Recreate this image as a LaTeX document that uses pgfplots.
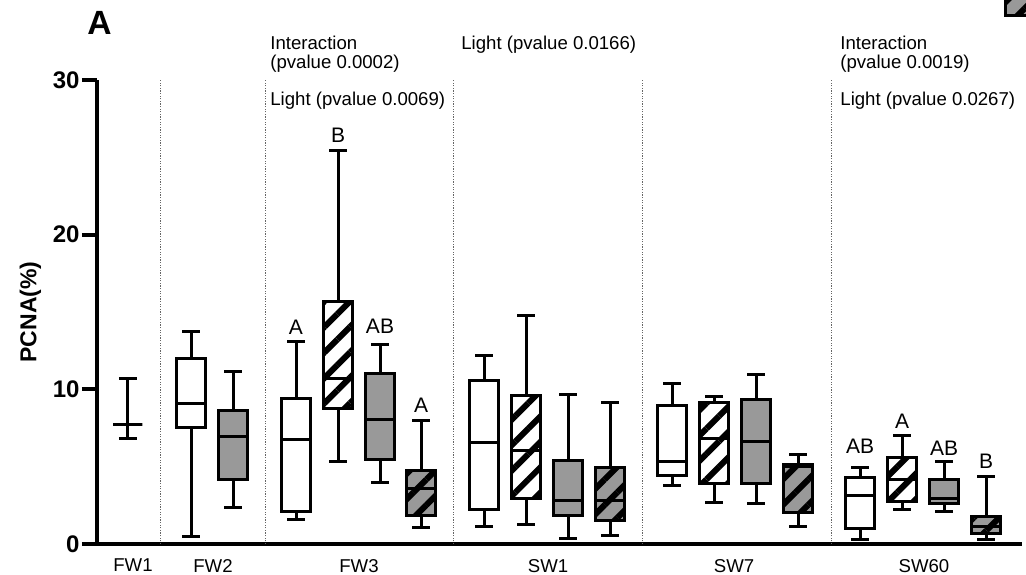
\documentclass[border=0pt]{standalone}
\usepackage{fontspec}
\setmainfont{Liberation Sans}
\usepackage{pgfplots}
\pgfplotsset{compat=1.18}
\usetikzlibrary{patterns.meta}
\definecolor{boxgray}{RGB}{153,153,153}
\tikzset{hatch/.style={postaction={pattern={Lines[angle=45,distance=9pt,line width=3pt]},pattern color=black}}}
\pgfplotsset{
  wk/.style={draw=black, line width=1.5pt, mark=none, solid},
  wbx/.style={wk, fill=white},
  hwbx/.style={wk, fill=white, hatch},
  gbx/.style={wk, fill=boxgray},
  hgbx/.style={wk, fill=boxgray, hatch},
}
% style, x, lower whisker, lower quartile, median, upper quartile, upper whisker
\newcommand{\bx}[7]{%
  \pgfmathsetmacro{\xl}{#2-14.5}\pgfmathsetmacro{\xr}{#2+14.5}%
  \pgfmathsetmacro{\cl}{#2-9}\pgfmathsetmacro{\cr}{#2+9}%
  \addplot[wk] coordinates {(#2,#6) (#2,#7)};
  \addplot[wk] coordinates {(#2,#3) (#2,#4)};
  \addplot[wk] coordinates {(\cl,#7) (\cr,#7)};
  \addplot[wk] coordinates {(\cl,#3) (\cr,#3)};
  \addplot[#1] coordinates {(\xl,#4) (\xr,#4) (\xr,#6) (\xl,#6)} -- cycle;
  \addplot[wk] coordinates {(\xl,#5) (\xr,#5)};
}
\newcommand{\annfont}{\fontsize{9.3}{11}\selectfont}
\newcommand{\letfont}{\fontsize{10.5}{12}\selectfont}
\begin{document}
\begin{tikzpicture}
\begin{axis}[
  scale only axis, width=462.5pt, height=232pt,
  xmin=97, xmax=1022, ymin=0, ymax=30,
  clip=false,
  axis lines*=left,
  axis line style={line width=2pt},
  xtick={133,213,359,548,734,924},
  xticklabels={FW1,FW2,FW3,SW1,SW7,SW60},
  xtick style={draw=none},
  ytick={0,10,20,30},
  ytick style={line width=2pt, black},
  tick align=outside,
  major tick length=7.5pt,
  xticklabel style={font=\fontsize{9.3}{11}\selectfont, yshift=3.5pt},
  yticklabel style={font=\fontsize{12}{14}\selectfont\bfseries, inner sep=1pt},
  /pgf/number format/assume math mode=true,
  ylabel={PCNA(\%)},
  ylabel style={font=\fontsize{11.5}{13}\selectfont\bfseries, at={(axis description cs:-0.072,0.5)}, anchor=center},
]
\pgfplotsinvokeforeach{160,265,453,642,831}{\draw[black!60, line width=0.5pt, dash pattern=on 0.6pt off 0.7pt] (axis cs:#1,0) -- (axis cs:#1,30);}
% FW1
\bx{wbx}{128}{6.79}{7.74}{7.74}{7.74}{10.67}
% FW2
\bx{wbx}{191}{0.47}{7.54}{9.09}{12.0}{13.77}
\bx{gbx}{233}{2.35}{4.18}{6.94}{8.66}{11.14}
% FW3
\bx{wbx}{296}{1.59}{2.09}{6.77}{9.42}{13.08}
\bx{hwbx}{338}{5.32}{8.77}{10.71}{15.66}{25.42}
\bx{gbx}{380}{3.99}{5.49}{8.08}{11.03}{12.93}
\bx{hgbx}{421}{1.08}{1.83}{3.60}{4.78}{7.97}
% SW1
\bx{wbx}{484}{1.12}{2.26}{6.55}{10.60}{12.17}
\bx{hwbx}{526}{1.29}{2.91}{6.03}{9.57}{14.80}
\bx{gbx}{568}{0.37}{1.83}{2.80}{5.43}{9.68}
\bx{hgbx}{610}{0.52}{1.51}{2.80}{4.93}{9.16}
% SW7
\bx{wbx}{672}{3.77}{4.46}{5.32}{8.94}{10.39}
\bx{hwbx}{714}{2.67}{3.88}{6.83}{9.16}{9.52}
\bx{gbx}{756}{2.59}{3.92}{6.61}{9.35}{10.97}
\bx{hgbx}{798}{1.16}{2.02}{5.00}{5.15}{5.80}
% SW60
\bx{wbx}{860}{0.30}{0.97}{3.12}{4.29}{4.93}
\bx{hwbx}{902}{2.20}{2.74}{4.14}{5.60}{7.00}
\bx{gbx}{944}{2.09}{2.59}{2.95}{4.18}{5.32}
\bx{hgbx}{986}{0.30}{0.65}{1.12}{1.81}{4.35}
% letters
\node[inner sep=0, font=\letfont] at (axis cs:296,14.03) {A};
\node[inner sep=0, font=\letfont] at (axis cs:338,26.44) {B};
\node[inner sep=0, font=\letfont] at (axis cs:380,14.05) {AB};
\node[inner sep=0, font=\letfont] at (axis cs:421,8.99) {A};
\node[inner sep=0, font=\letfont] at (axis cs:860,6.34) {AB};
\node[inner sep=0, font=\letfont] at (axis cs:902,7.95) {A};
\node[inner sep=0, font=\letfont] at (axis cs:944,6.19) {AB};
\node[inner sep=0, font=\letfont] at (axis cs:986,5.32) {B};
% annotations
\node[anchor=base west, inner sep=0, font=\annfont] at (axis cs:270,31.99) {Interaction};
\node[anchor=base west, inner sep=0, font=\annfont] at (axis cs:270,30.72) {(pvalue 0.0002)};
\node[anchor=base west, inner sep=0, font=\annfont] at (axis cs:270,28.38) {Light (pvalue 0.0069)};
\node[anchor=base west, inner sep=0, font=\annfont] at (axis cs:461,31.99) {Light (pvalue 0.0166)};
\node[anchor=base west, inner sep=0, font=\annfont] at (axis cs:840,31.99) {Interaction};
\node[anchor=base west, inner sep=0, font=\annfont] at (axis cs:840,30.72) {(pvalue 0.0019)};
\node[anchor=base west, inner sep=0, font=\annfont] at (axis cs:840,28.38) {Light (pvalue 0.0267)};
% panel title
\node[anchor=base west, inner sep=0, font=\fontsize{16.8}{18}\selectfont\bfseries] at (axis cs:87,32.97) {A};
% legend fragment (clipped in reference)
\draw[line width=1.5pt, fill=boxgray, hatch] (axis cs:1005,36.2) rectangle (axis cs:1045,34.2);
\coordinate (bbsw) at (axis cs:0,-2.004);
\coordinate (bbne) at (axis cs:1026,35.172);
\end{axis}
\pgfresetboundingbox
\useasboundingbox (bbsw) rectangle (bbne);
\end{tikzpicture}
\end{document}
